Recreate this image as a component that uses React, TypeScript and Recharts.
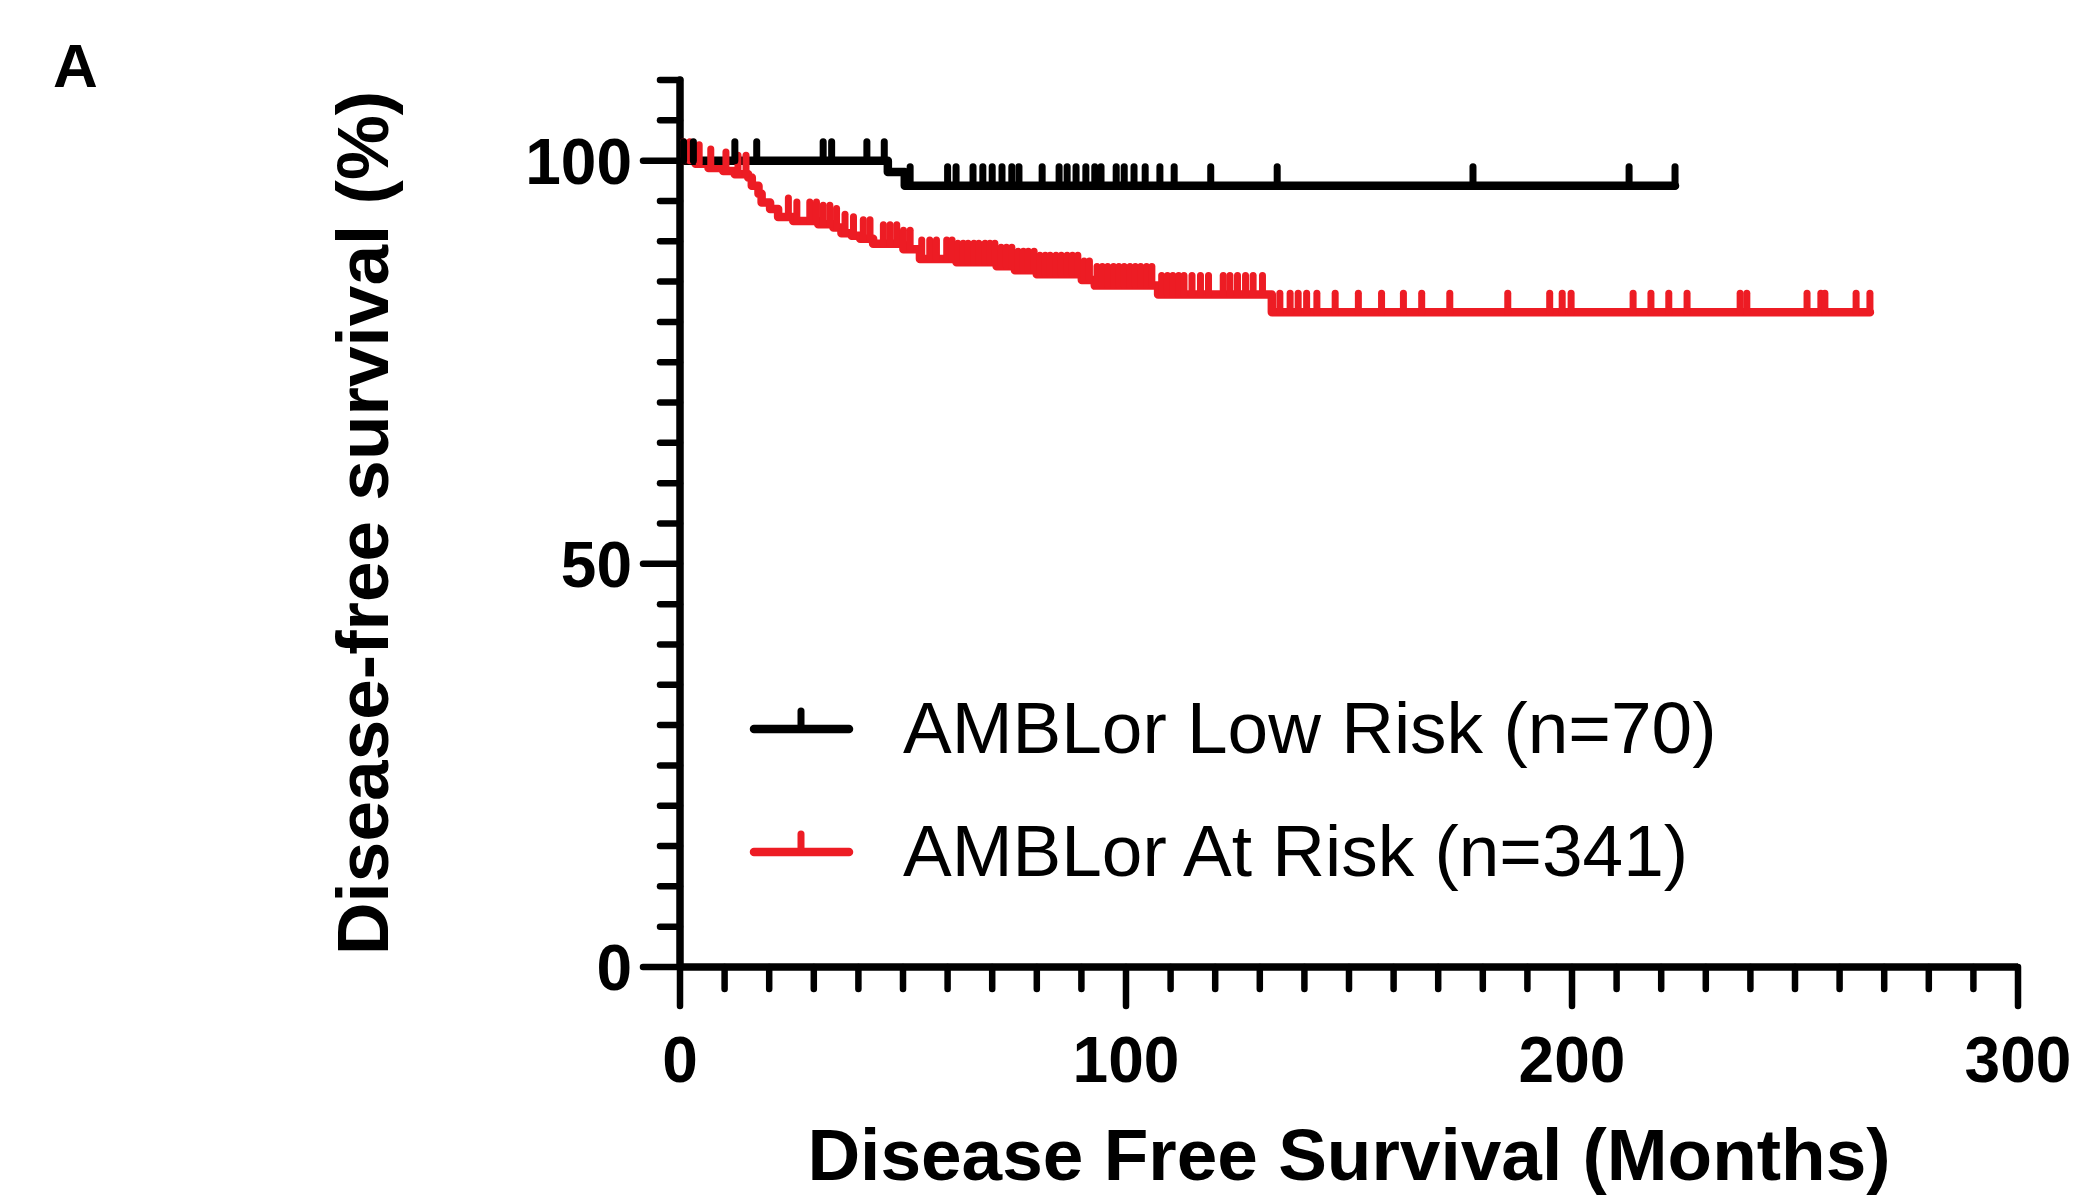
import { Legend, Line, LineChart, XAxis, YAxis } from "recharts";

const lowRiskName = "AMBLor Low Risk (n=70)";
const atRiskName = "AMBLor At Risk (n=341)";

// Kaplan-Meier steps: [months, survival % after the event]
const lowRiskSteps: [number, number][] = [
  [0, 100],
  [46.6, 98.6],
  [50.4, 96.9],
];

// censored follow-up times (months)
const lowRiskCensored: number[] = [
  0.8, 3.0, 12.3, 17.2, 32.1, 34.0, 41.9, 45.8, 51.6, 60.0, 61.9, 65.7, 67.9,
  70.0, 72.2, 74.4, 76.0, 81.2, 85.0, 86.8, 88.8, 91.0, 93.0, 94.4, 97.8, 99.6,
  101.8, 104.3, 107.6, 110.8, 119.0, 133.9, 177.8, 212.8, 223.1,
];

const atRiskSteps: [number, number][] = [
  [0, 100],
  [3.5, 99.6],
  [6.4, 99.1],
  [9.7, 98.7],
  [12.3, 98.3],
  [15.3, 97.9],
  [16.1, 96.9],
  [17.6, 95.9],
  [18.3, 94.8],
  [20.2, 94.0],
  [22.0, 93.0],
  [25.4, 92.5],
  [31.0, 92.1],
  [34.4, 91.7],
  [36.2, 91.0],
  [38.5, 90.7],
  [40.4, 90.3],
  [43.3, 89.7],
  [50.1, 89.0],
  [53.8, 87.8],
  [62.0, 87.4],
  [71.0, 86.9],
  [75.1, 86.4],
  [80.0, 85.9],
  [90.1, 85.2],
  [93.0, 84.5],
  [107.2, 83.4],
  [132.7, 81.2],
];

const atRiskCensored: number[] = [
  0.8, 2.2, 4.3, 6.9, 10.3, 13.0, 14.8, 24.3, 26.2, 29.1, 30.6, 32.1, 33.6,
  35.1, 37.0, 38.9, 41.1, 42.6, 45.6, 47.1, 48.6, 50.1, 51.6, 54.2, 56.0, 57.5,
  59.8, 61.0, 62.3, 63.5, 64.6, 65.9, 67.0, 68.4, 69.5, 70.6, 72.0, 73.2, 74.4,
  75.8, 77.0, 78.1, 79.4, 80.7, 81.9, 83.0, 84.3, 85.5, 86.8, 88.0, 89.2, 90.6,
  91.8, 93.5, 94.7, 95.9, 97.2, 98.4, 99.6, 100.9, 102.1, 103.3, 104.6, 105.8,
  108.0, 109.3, 110.5, 111.8, 113.0, 114.8, 116.7, 118.5, 121.8, 123.3, 125.0,
  126.8, 128.5, 130.6, 134.5, 136.8, 138.6, 140.5, 142.8, 146.9, 152.1, 157.3,
  162.2, 166.3, 172.6, 185.6, 195.0, 197.8, 199.8, 213.7, 217.7, 221.7, 225.8,
  237.7, 239.2, 252.7, 255.8, 256.7, 263.7, 266.8,
];

const xTicks = [
  0, 10, 20, 30, 40, 50, 60, 70, 80, 90, 100, 110, 120, 130, 140, 150, 160,
  170, 180, 190, 200, 210, 220, 230, 240, 250, 260, 270, 280, 290, 300,
];
const xLabels = [0, 100, 200, 300];
const yTicks = [
  0, 5, 10, 15, 20, 25, 30, 35, 40, 45, 50, 55, 60, 65, 70, 75, 80, 85, 90, 95,
  100, 105, 110,
];
const yLabels = [0, 50, 100];

const BLACK = "#000000";
const RED = "#ed1c24";
const FONT = '"Liberation Sans", Arial, Helvetica, sans-serif';

interface KmPoint {
  t: number;
  s: number;
  censored: boolean;
}

function toKmData(steps: [number, number][], censored: number[]): KmPoint[] {
  const points: KmPoint[] = steps.map(([t, s]) => ({ t, s, censored: false }));
  censored.forEach((t) => {
    let s = steps[0][1];
    steps.forEach(([st, sv]) => {
      if (st <= t) s = sv;
    });
    points.push({ t, s, censored: true });
  });
  return points.sort((a, b) => a.t - b.t);
}

const lowRiskData = toKmData(lowRiskSteps, lowRiskCensored);
const atRiskData = toKmData(atRiskSteps, atRiskCensored);

function censorMark(props: any, color: string) {
  const { cx, cy, payload, index } = props;
  if (!payload?.censored || cx == null || cy == null) {
    return <g key={`n-${index}`} />;
  }
  return (
    <line
      key={`c-${index}`}
      x1={cx}
      x2={cx}
      y1={cy}
      y2={cy - 19}
      stroke={color}
      strokeWidth={7}
      strokeLinecap="round"
    />
  );
}

function XTick(props: any) {
  const { x, y, payload } = props;
  const major = xLabels.includes(payload.value);
  return (
    <g>
      <line
        x1={x}
        x2={x}
        y1={y}
        y2={y + (major ? 39 : 22)}
        stroke={BLACK}
        strokeWidth={6.5}
        strokeLinecap="round"
      />
      {major && (
        <text
          x={x}
          y={y + 115}
          textAnchor="middle"
          fontFamily={FONT}
          fontWeight="bold"
          fontSize={64}
          fill={BLACK}
        >
          {payload.value}
        </text>
      )}
    </g>
  );
}

function YTick(props: any) {
  const { x, y, payload } = props;
  const major = yLabels.includes(payload.value);
  return (
    <g>
      <line
        x1={x - (major ? 37 : 20)}
        x2={x}
        y1={y}
        y2={y}
        stroke={BLACK}
        strokeWidth={6.5}
        strokeLinecap="round"
      />
      {major && (
        <text
          x={x - 48}
          y={y + 23}
          textAnchor="end"
          fontFamily={FONT}
          fontWeight="bold"
          fontSize={64}
          fill={BLACK}
        >
          {payload.value}
        </text>
      )}
    </g>
  );
}

const legendOrder = [lowRiskName, atRiskName];

function KmLegend({ payload }: any) {
  const entries = legendOrder.map((name) =>
    (payload ?? []).find((p: any) => p.value === name),
  );
  return (
    <svg width={2075} height={1197} style={{ display: "block" }}>
      {entries.map((entry: any, i: number) => {
        if (!entry) return null;
        const cy = 729 + i * 123;
        return (
          <g key={entry.value}>
            <line
              x1={754}
              x2={849}
              y1={cy}
              y2={cy}
              stroke={entry.color}
              strokeWidth={8.5}
              strokeLinecap="round"
            />
            <line
              x1={801}
              x2={801}
              y1={cy}
              y2={cy - 18}
              stroke={entry.color}
              strokeWidth={7}
              strokeLinecap="round"
            />
            <text
              x={903}
              y={cy + 24}
              fontFamily={FONT}
              fontSize={73}
              fill={BLACK}
            >
              {entry.value}
            </text>
          </g>
        );
      })}
    </svg>
  );
}

export default function App() {
  return (
    <div
      style={{
        position: "absolute",
        left: 0,
        top: 0,
        width: 2075,
        height: 1197,
        background: "#ffffff",
      }}
    >
      <LineChart
        width={2075}
        height={1197}
        margin={{ top: 80, right: 57, bottom: 100, left: 480 }}
      >
        <XAxis
          dataKey="t"
          type="number"
          domain={[0, 300]}
          ticks={xTicks}
          interval={0}
          height={130}
          tickSize={0}
          tickMargin={0}
          tickLine={false}
          axisLine={{ stroke: BLACK, strokeWidth: 7.5 }}
          tick={<XTick />}
          allowDataOverflow
        />
        <YAxis
          type="number"
          domain={[0, 110]}
          ticks={yTicks}
          interval={0}
          width={200}
          tickSize={0}
          tickMargin={0}
          tickLine={false}
          axisLine={{ stroke: BLACK, strokeWidth: 7.5, strokeLinecap: "round" }}
          tick={<YTick />}
          allowDataOverflow
        />
        <Legend
          layout="horizontal"
          verticalAlign="middle"
          align="center"
          wrapperStyle={{ left: 0, top: 0, width: 2075, height: 1197, pointerEvents: "none" }}
          content={<KmLegend />}
        />
        <Line
          data={atRiskData}
          dataKey="s"
          name={atRiskName}
          type="stepAfter"
          stroke={RED}
          strokeWidth={8.5}
          strokeLinejoin="round"
          strokeLinecap="round"
          dot={(p: any) => censorMark(p, RED)}
          activeDot={false}
          isAnimationActive={false}
        />
        <Line
          data={lowRiskData}
          dataKey="s"
          name={lowRiskName}
          type="stepAfter"
          stroke={BLACK}
          strokeWidth={8.5}
          strokeLinejoin="round"
          strokeLinecap="round"
          dot={(p: any) => censorMark(p, BLACK)}
          activeDot={false}
          isAnimationActive={false}
        />
      </LineChart>
      <svg
        width={2075}
        height={1197}
        style={{ position: "absolute", left: 0, top: 0, pointerEvents: "none" }}
      >
        <text x={53} y={87} fontFamily={FONT} fontWeight="bold" fontSize={62} fill={BLACK}>
          A
        </text>
        <text
          x={388}
          y={523}
          transform="rotate(-90, 388, 523)"
          textAnchor="middle"
          fontFamily={FONT}
          fontWeight="bold"
          fontSize={73}
          fill={BLACK}
        >
          Disease-free survival (%)
        </text>
        <text
          x={1349}
          y={1180}
          textAnchor="middle"
          fontFamily={FONT}
          fontWeight="bold"
          fontSize={73}
          fill={BLACK}
        >
          Disease Free Survival (Months)
        </text>
      </svg>
    </div>
  );
}
